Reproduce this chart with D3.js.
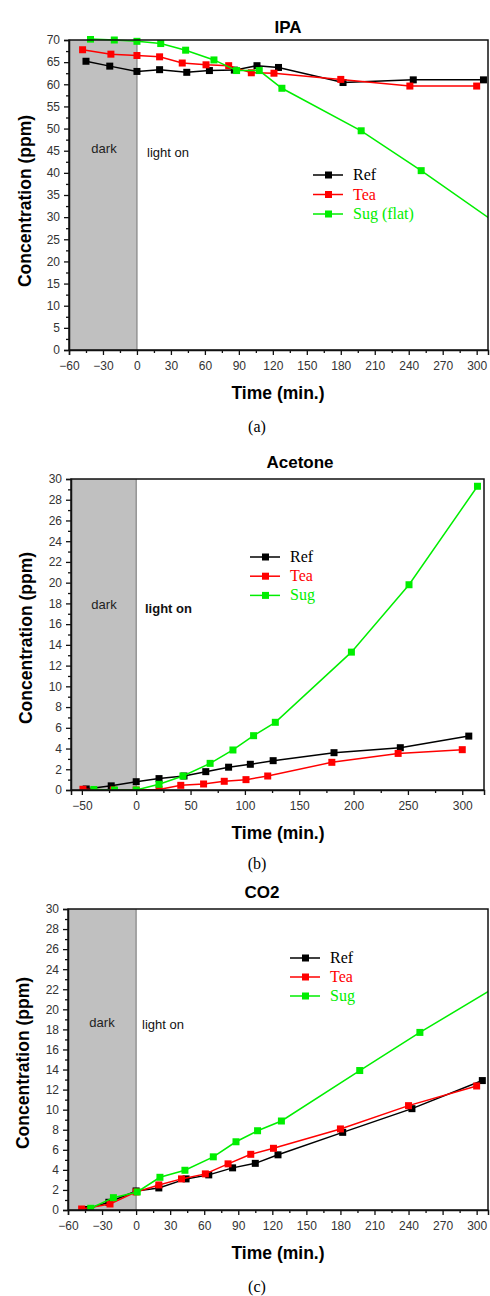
<!DOCTYPE html>
<html>
<head>
<meta charset="utf-8">
<script src="https://cdn.jsdelivr.net/npm/d3@7"></script>
<style>
  body { margin: 0; background: #fff; }
  svg { display: block; }
  .tick text { font-family: "Liberation Sans", Arial, sans-serif; font-size: 12px; fill: #333; }
</style>
</head>
<body>
<div id="chart"></div>
<script>
// ---- data (times in min., concentration in ppm) ----
const seriesNames = ["Ref", "Tea", "Sug"];
const seriesColors = ["#000000", "#ff0000", "#00ee00"];

// (a) IPA
const ipaRefT = [-45, -24, 0, 20, 44, 64, 86, 106, 125, 182, 244, 306];
const ipaRefV = [65.2, 64.1, 62.9, 63.3, 62.7, 63.1, 63.2, 64.2, 63.8, 60.4, 61.0, 61.0];
const ipaTeaT = [-48, -23, 0, 20, 40, 61, 81, 101, 121, 180, 241, 300];
const ipaTeaV = [67.8, 66.8, 66.5, 66.2, 64.8, 64.4, 64.2, 62.6, 62.5, 61.1, 59.6, 59.6];
const ipaSugT = [-41, -20, 0, 21, 43, 68, 88, 108, 128, 198, 251, 318];
const ipaSugV = [70.2, 70.0, 69.7, 69.2, 67.7, 65.5, 63.1, 63.1, 59.1, 49.5, 40.5, 28.5];

// (b) Acetone
const aceRefT = [-46, -23, 0, 21, 44, 64, 85, 105, 126, 182, 243, 306];
const aceRefV = [0.1, 0.4, 0.8, 1.1, 1.35, 1.77, 2.2, 2.48, 2.83, 3.6, 4.08, 5.2];
const aceTeaT = [-49, -21, 0, 21, 41, 62, 81, 101, 121, 180, 241, 300];
const aceTeaV = [0.07, 0.0, 0.0, 0.05, 0.45, 0.58, 0.84, 1.0, 1.35, 2.67, 3.53, 3.89];
const aceSugT = [-39, -20, 0, 21, 43, 68, 89, 108, 128, 198, 251, 314];
const aceSugV = [0.05, 0.0, 0.0, 0.55, 1.35, 2.57, 3.86, 5.24, 6.53, 13.3, 19.8, 29.3];

// (c) CO2
const co2RefT = [-45, -24, 0, 20, 44, 64, 85, 105, 125, 182, 243, 305];
const co2RefV = [0.05, 0.77, 1.9, 2.2, 3.1, 3.5, 4.2, 4.65, 5.5, 7.74, 10.1, 12.9];
const co2TeaT = [-48, -23, 0, 20, 40, 61, 81, 101, 121, 180, 240, 300];
const co2TeaV = [0.1, 0.6, 1.8, 2.5, 3.1, 3.6, 4.6, 5.55, 6.15, 8.08, 10.4, 12.36];
const co2SugT = [-40, -20, 1, 21, 43, 68, 88, 107, 128, 197, 250, 318];
const co2SugV = [0.17, 1.23, 1.8, 3.26, 3.96, 5.3, 6.8, 7.9, 8.87, 13.9, 17.7, 22.3];

const zip = (t, v) => t.map((d, i) => ({ t: d, v: v[i] }));

const panels = [
  {
    title: "IPA", caption: "(a)", legendNames: ["Ref", "Tea", "Sug (flat)"],
    series: [zip(ipaRefT, ipaRefV), zip(ipaTeaT, ipaTeaV), zip(ipaSugT, ipaSugV)],
    xDomain: [-60, 310], xTicks: d3.range(-60, 301, 30), xMinor: d3.range(-45, 310, 30),
    yDomain: [0, 70], yTicks: d3.range(0, 71, 5), yMinor: d3.range(2.5, 70, 5),
    box: { left: 69, right: 488, top: 40, bottom: 350 },
    titleXY: [288, 33], yLabelXY: [31, 201], xLabelY: 399, captionY: 432,
    darkXY: [104, 153], lightXY: [147, 157], lightBold: false,
    legend: { x: 313, y: 175, dy: 19.5 }
  },
  {
    title: "Acetone", caption: "(b)", legendNames: seriesNames,
    series: [zip(aceRefT, aceRefV), zip(aceTeaT, aceTeaV), zip(aceSugT, aceSugV)],
    xDomain: [-60, 320], xTicks: d3.range(-50, 301, 50), xMinor: d3.range(-25, 320, 50),
    yDomain: [0, 30], yTicks: d3.range(0, 31, 2), yMinor: d3.range(1, 30, 2),
    box: { left: 71, right: 484, top: 479, bottom: 790 },
    titleXY: [300, 468], yLabelXY: [32, 638], xLabelY: 839, captionY: 869,
    darkXY: [104, 609], lightXY: [145, 613], lightBold: true,
    legend: { x: 250, y: 557, dy: 19.2 }
  },
  {
    title: "CO2", caption: "(c)", legendNames: seriesNames,
    series: [zip(co2RefT, co2RefV), zip(co2TeaT, co2TeaV), zip(co2SugT, co2SugV)],
    xDomain: [-60, 310], xTicks: d3.range(-60, 301, 30), xMinor: d3.range(-45, 310, 30),
    yDomain: [0, 30], yTicks: d3.range(0, 31, 2), yMinor: d3.range(1, 30, 2),
    box: { left: 68, right: 488, top: 909, bottom: 1210 },
    titleXY: [262, 898], yLabelXY: [29, 1063], xLabelY: 1259, captionY: 1292,
    darkXY: [102, 1027], lightXY: [142, 1029], lightBold: false,
    legend: { x: 290, y: 958, dy: 19 }
  }
];

const svg = d3.select("#chart").append("svg")
  .attr("width", 490)
  .attr("height", 1296);

panels.forEach((p, pi) => drawPanel(p, pi));

function drawPanel(p, pi) {
  const b = p.box;
  const x = d3.scaleLinear().domain(p.xDomain).range([b.left, b.right]);
  const y = d3.scaleLinear().domain(p.yDomain).range([b.bottom, b.top]);

  const g = svg.append("g");

  // clip for the plot area
  const clipId = "clip" + pi;
  g.append("clipPath").attr("id", clipId)
    .append("rect")
    .attr("x", b.left).attr("y", b.top - 4)
    .attr("width", b.right - b.left).attr("height", b.bottom - b.top + 4);

  // dark period shading
  g.append("rect")
    .attr("x", x(p.xDomain[0]))
    .attr("y", b.top)
    .attr("width", x(0) - x(p.xDomain[0]))
    .attr("height", b.bottom - b.top)
    .attr("fill", "#c0c0c0");
  g.append("line")
    .attr("x1", x(0)).attr("x2", x(0))
    .attr("y1", b.top).attr("y2", b.bottom)
    .attr("stroke", "#8a8a8a").attr("stroke-width", 1.3);

  g.append("text")
    .attr("x", p.darkXY[0]).attr("y", p.darkXY[1])
    .attr("text-anchor", "middle")
    .attr("font-family", "Liberation Sans, Arial, sans-serif")
    .attr("font-size", 13).attr("fill", "#222")
    .text("dark");
  g.append("text")
    .attr("x", p.lightXY[0]).attr("y", p.lightXY[1])
    .attr("font-family", "Liberation Sans, Arial, sans-serif")
    .attr("font-size", 13).attr("fill", "#111")
    .attr("font-weight", p.lightBold ? "bold" : "normal")
    .text("light on");

  // series lines and markers
  const line = d3.line().x(d => x(d.t)).y(d => y(d.v));
  const plot = g.append("g").attr("clip-path", `url(#${clipId})`);
  p.series.forEach((s, si) => {
    plot.append("path")
      .datum(s)
      .attr("d", line)
      .attr("fill", "none")
      .attr("stroke", seriesColors[si])
      .attr("stroke-width", 1.5);
    plot.selectAll(".m" + si)
      .data(s)
      .enter()
      .append("rect")
      .attr("class", "m" + si)
      .attr("x", d => x(d.t) - 3.5)
      .attr("y", d => y(d.v) - 3.5)
      .attr("width", 7).attr("height", 7)
      .attr("fill", seriesColors[si]);
  });

  // frame
  g.append("rect")
    .attr("x", b.left).attr("y", b.top)
    .attr("width", b.right - b.left).attr("height", b.bottom - b.top)
    .attr("fill", "none").attr("stroke", "#111").attr("stroke-width", 1.5);

  // axes
  const xAxis = g.append("g")
    .attr("transform", `translate(0,${b.bottom})`)
    .call(d3.axisBottom(x).tickValues(p.xTicks).tickSize(5).tickPadding(6));
  g.append("g")
    .attr("transform", `translate(0,${b.bottom})`)
    .call(d3.axisBottom(x).tickValues(p.xMinor).tickSize(3).tickFormat(""))
    .call(a => a.select(".domain").remove());
  const yAxis = g.append("g")
    .attr("transform", `translate(${b.left},0)`)
    .call(d3.axisLeft(y).tickValues(p.yTicks).tickSize(5).tickPadding(4));
  g.append("g")
    .attr("transform", `translate(${b.left},0)`)
    .call(d3.axisLeft(y).tickValues(p.yMinor).tickSize(3).tickFormat(""))
    .call(a => a.select(".domain").remove());
  [xAxis, yAxis].forEach(a => {
    a.select(".domain").attr("stroke", "#111").attr("stroke-width", 1.5);
  });
  g.selectAll(".tick line").attr("stroke", "#111").attr("stroke-width", 1.3);

  // titles
  g.append("text")
    .attr("x", p.titleXY[0]).attr("y", p.titleXY[1])
    .attr("text-anchor", "middle")
    .attr("font-family", "Liberation Sans, Arial, sans-serif")
    .attr("font-size", 17).attr("font-weight", "bold")
    .text(p.title);
  g.append("text")
    .attr("transform", `translate(${p.yLabelXY[0]},${p.yLabelXY[1]}) rotate(-90)`)
    .attr("text-anchor", "middle")
    .attr("font-family", "Liberation Sans, Arial, sans-serif")
    .attr("font-size", 17.5).attr("font-weight", "bold")
    .text("Concentration (ppm)");
  g.append("text")
    .attr("x", 278).attr("y", p.xLabelY)
    .attr("text-anchor", "middle")
    .attr("font-family", "Liberation Sans, Arial, sans-serif")
    .attr("font-size", 17.5).attr("font-weight", "bold")
    .text("Time (min.)");
  g.append("text")
    .attr("x", 257).attr("y", p.captionY)
    .attr("text-anchor", "middle")
    .attr("font-family", "Liberation Serif, Times New Roman, serif")
    .attr("font-size", 16)
    .text(p.caption);

  // legend
  const lg = g.append("g").attr("transform", `translate(${p.legend.x},${p.legend.y})`);
  p.legendNames.forEach((name, i) => {
    const row = lg.append("g").attr("transform", `translate(0,${i * p.legend.dy})`);
    row.append("line")
      .attr("x1", 0).attr("x2", 30).attr("y1", 0).attr("y2", 0)
      .attr("stroke", seriesColors[i]).attr("stroke-width", 1.5);
    row.append("rect")
      .attr("x", 12).attr("y", -3.5).attr("width", 7).attr("height", 7)
      .attr("fill", seriesColors[i]);
    row.append("text")
      .attr("x", 40).attr("y", 5)
      .attr("font-family", "Liberation Serif, Times New Roman, serif")
      .attr("font-size", 16)
      .attr("fill", seriesColors[i])
      .text(name);
  });
}
</script>
</body>
</html>
